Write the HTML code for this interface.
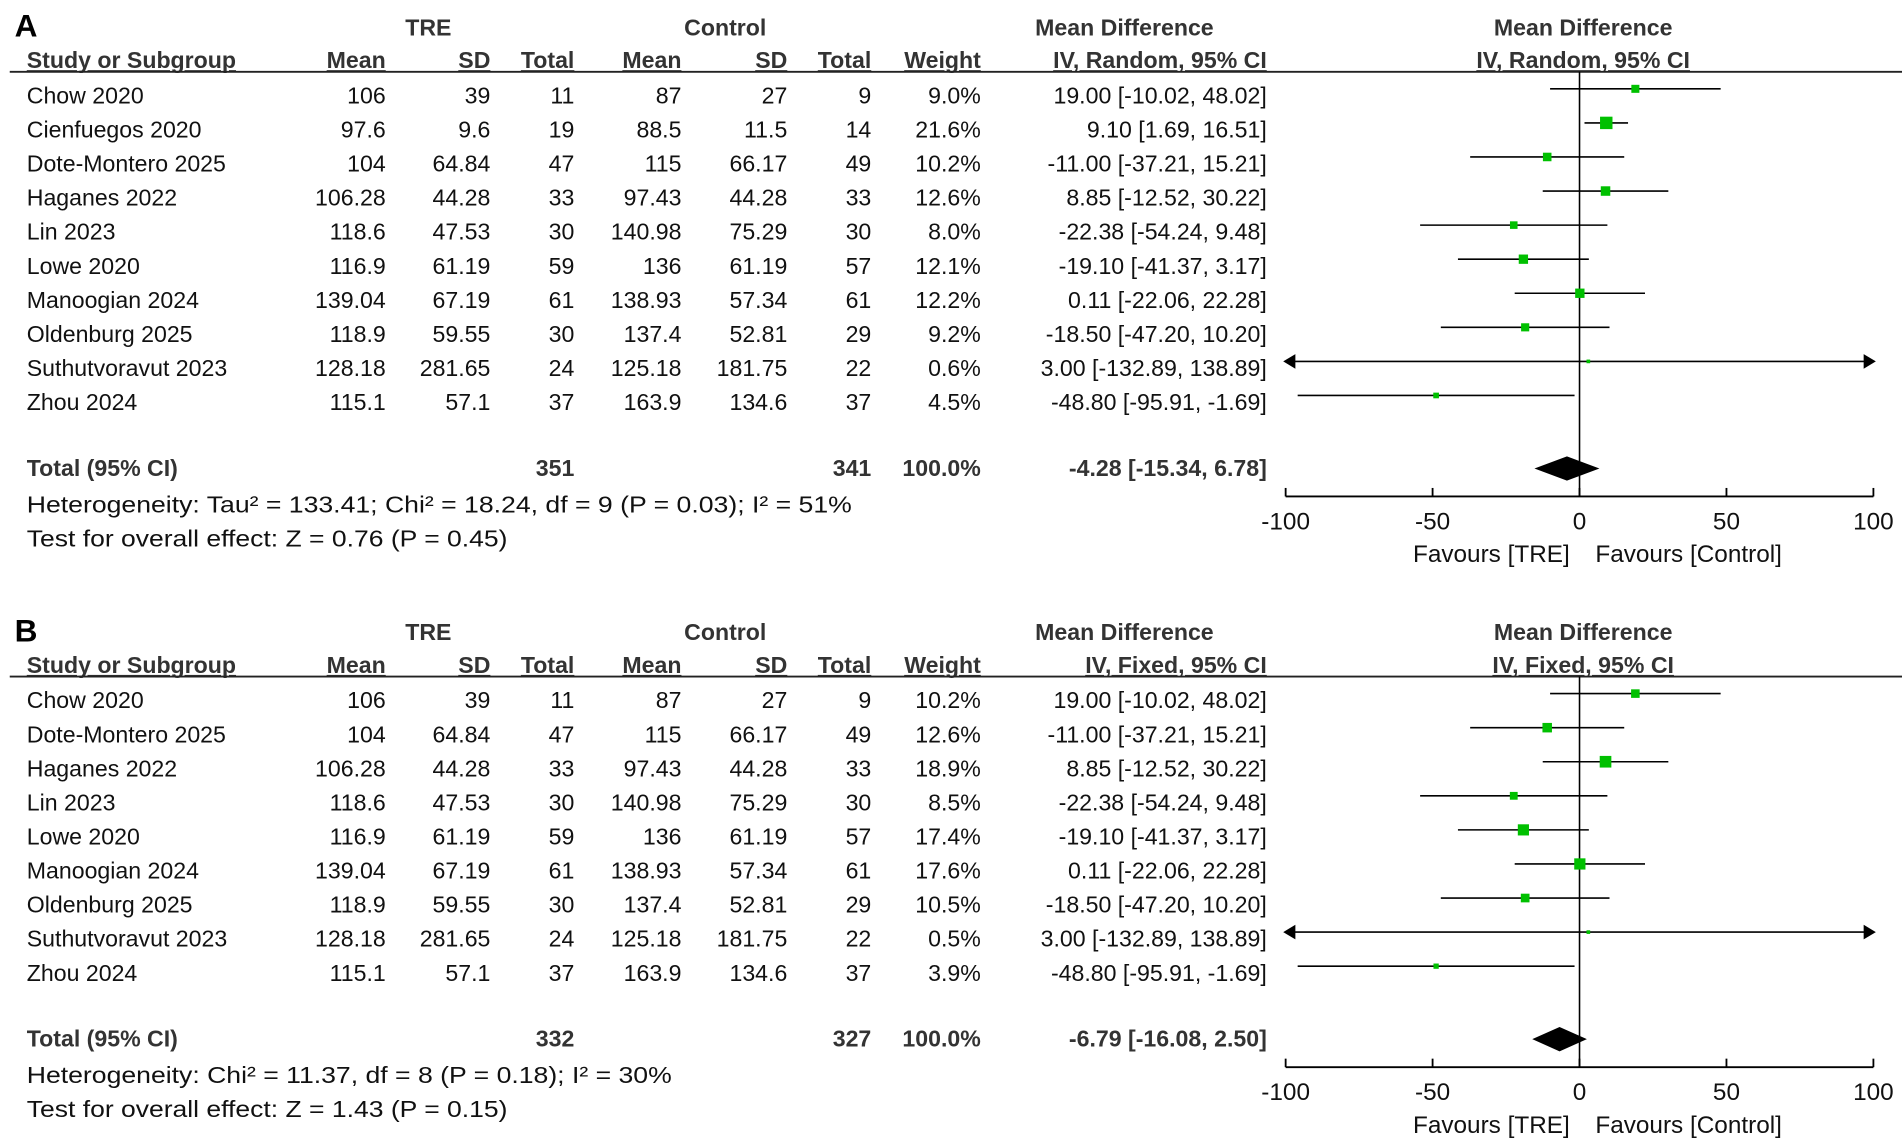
<!DOCTYPE html>
<html><head><meta charset="utf-8"><style>
html,body{margin:0;padding:0;background:#fff;}
svg{display:block;font-family:"Liberation Sans",Arial,sans-serif;}
</style></head>
<body>
<svg id="chart" width="1902" height="1142" viewBox="0 0 1563 938.5" preserveAspectRatio="none" xmlns="http://www.w3.org/2000/svg"></svg>
<script>
// ---- Panel A data (Random) ----
const studiesA = ["Chow 2020","Cienfuegos 2020","Dote-Montero 2025","Haganes 2022","Lin 2023","Lowe 2020","Manoogian 2024","Oldenburg 2025","Suthutvoravut 2023","Zhou 2024"];
const treMeanA = ["106","97.6","104","106.28","118.6","116.9","139.04","118.9","128.18","115.1"];
const treSdA = ["39","9.6","64.84","44.28","47.53","61.19","67.19","59.55","281.65","57.1"];
const treNA = ["11","19","47","33","30","59","61","30","24","37"];
const ctlMeanA = ["87","88.5","115","97.43","140.98","136","138.93","137.4","125.18","163.9"];
const ctlSdA = ["27","11.5","66.17","44.28","75.29","61.19","57.34","52.81","181.75","134.6"];
const ctlNA = ["9","14","49","33","30","57","61","29","22","37"];
const weightA = [9.0,21.6,10.2,12.6,8.0,12.1,12.2,9.2,0.6,4.5];
const mdA = [19.00,9.10,-11.00,8.85,-22.38,-19.10,0.11,-18.50,3.00,-48.80];
const loA = [-10.02,1.69,-37.21,-12.52,-54.24,-41.37,-22.06,-47.20,-132.89,-95.91];
const hiA = [48.02,16.51,15.21,30.22,9.48,3.17,22.28,10.20,138.89,-1.69];
const totalA = {n1:"351",n2:"341",md:-4.28,lo:-15.34,hi:6.78};
// ---- Panel B data (Fixed) ----
const studiesB = ["Chow 2020","Dote-Montero 2025","Haganes 2022","Lin 2023","Lowe 2020","Manoogian 2024","Oldenburg 2025","Suthutvoravut 2023","Zhou 2024"];
const treMeanB = ["106","104","106.28","118.6","116.9","139.04","118.9","128.18","115.1"];
const treSdB = ["39","64.84","44.28","47.53","61.19","67.19","59.55","281.65","57.1"];
const treNB = ["11","47","33","30","59","61","30","24","37"];
const ctlMeanB = ["87","115","97.43","140.98","136","138.93","137.4","125.18","163.9"];
const ctlSdB = ["27","66.17","44.28","75.29","61.19","57.34","52.81","181.75","134.6"];
const ctlNB = ["9","49","33","30","57","61","29","22","37"];
const weightB = [10.2,12.6,18.9,8.5,17.4,17.6,10.5,0.5,3.9];
const mdB = [19.00,-11.00,8.85,-22.38,-19.10,0.11,-18.50,3.00,-48.80];
const loB = [-10.02,-37.21,-12.52,-54.24,-41.37,-22.06,-47.20,-132.89,-95.91];
const hiB = [48.02,15.21,30.22,9.48,3.17,22.28,10.20,138.89,-1.69];
const totalB = {n1:"332",n2:"327",md:-6.79,lo:-16.08,hi:2.50};
const ticks = [-100,-50,0,50,100];
const tickLabels = ["-100","-50","0","50","100"];

const NS="http://www.w3.org/2000/svg";
const svg=document.getElementById('chart');
function el(tag,attrs,parent){const e=document.createElementNS(NS,tag);for(const k in attrs)e.setAttribute(k,attrs[k]);(parent||svg).appendChild(e);return e;}
function txt(x,y,s,anchor,bold,parent,size){const t=el('text',{x:x,y:y,'text-anchor':anchor||'start','font-size':size||19,'font-weight':bold?'bold':'normal',fill:bold?'#333':'#111'},parent);t.textContent=s;return t;}
const X=v=>1298+Math.max(-100,Math.min(100,v))*2.415;
const fmt=v=>v.toFixed(2);

function panel(o){
  const g=el('g',{});
  
  
  const y0=o.y0;
  const lab=txt(12,y0+9,o.letter,'start',true,g,26); lab.setAttribute('fill','#000');
  
  
  txt(352,y0+8,'TRE','middle',true,g); txt(596,y0+8,'Control','middle',true,g);
  txt(924,y0+8,'Mean Difference','middle',true,g); txt(1301,y0+8,'Mean Difference','middle',true,g);
  const hy=y0+35;
  [[22,'Study or Subgroup','start'],[317,'Mean','end'],[403,'SD','end'],[472,'Total','end'],[560,'Mean','end'],[647,'SD','end'],[716,'Total','end'],[806,'Weight','end'],[1041,o.method+', 95% CI','end'],[1301,o.method+', 95% CI','middle']].forEach(h=>{
    const t=txt(h[0],hy,h[1],h[2],true,g);
    t.setAttribute('text-decoration','underline');
    
    
  });
  el('line',{x1:8,x2:1563,y1:o.lineY,y2:o.lineY,stroke:'#222','stroke-width':1.5},g);
  el('line',{x1:X(0),x2:X(0),y1:o.lineY,y2:o.axisY,stroke:'#000','stroke-width':1.3},g);
  o.studies.forEach((s,i)=>{
    const y=o.rowY+i*28, ty=y+7;
    const row=el('g',{},g);
    
    
    txt(22,ty,s,'start',false,row);
    txt(317,ty,o.m1[i],'end',false,row); txt(403,ty,o.s1[i],'end',false,row); txt(472,ty,o.n1[i],'end',false,row);
    txt(560,ty,o.m2[i],'end',false,row); txt(647,ty,o.s2[i],'end',false,row); txt(716,ty,o.n2[i],'end',false,row);
    txt(806,ty,o.w[i].toFixed(1)+'%','end',false,row);
    txt(1041,ty,fmt(o.md[i])+' ['+fmt(o.lo[i])+', '+fmt(o.hi[i])+']','end',false,row);
    const ly=y-5;
    const ci=el('line',{x1:X(o.lo[i]),x2:X(o.hi[i]),y1:ly,y2:ly,stroke:'#000','stroke-width':1.3},row);
    
    
    if(o.lo[i]<-100) el('polygon',{points:`${X(-100)-2},${ly} ${X(-100)+8},${ly-6} ${X(-100)+8},${ly+6}`,fill:'#000'},row);
    if(o.hi[i]>100) el('polygon',{points:`${X(100)+2},${ly} ${X(100)-8},${ly-6} ${X(100)-8},${ly+6}`,fill:'#000'},row);
    const sz=Math.max(3,2.2*Math.sqrt(o.w[i]));
    const sq=el('rect',{x:X(o.md[i])-sz/2,y:ly-sz/2,width:sz,height:sz,fill:'#00c000'},row);
    
    
  });
  const tY=o.totalY;
  txt(22,tY,'Total (95% CI)','start',true,g); txt(472,tY,o.tot.n1,'end',true,g); txt(716,tY,o.tot.n2,'end',true,g);
  txt(806,tY,'100.0%','end',true,g);
  txt(1041,tY,fmt(o.tot.md)+' ['+fmt(o.tot.lo)+', '+fmt(o.tot.hi)+']','end',true,g);
  const dy=tY-6;
  const dm=el('polygon',{points:`${X(o.tot.lo)},${dy} ${X(o.tot.md)},${dy-10} ${X(o.tot.hi)},${dy} ${X(o.tot.md)},${dy+10}`,fill:'#000'},g);
  
  
  const h1=txt(22,o.hetY,o.het,'start',false,g); h1.setAttribute('textLength',o.hetLen); h1.setAttribute('lengthAdjust','spacingAndGlyphs');
  const h2=txt(22,o.hetY+28,o.test,'start',false,g); h2.setAttribute('textLength',395); h2.setAttribute('lengthAdjust','spacingAndGlyphs');
  const ax=el('g',{},g);
  
  
  el('line',{x1:X(-100),x2:X(100),y1:o.axisY,y2:o.axisY,stroke:'#000','stroke-width':1.5},ax);
  ticks.forEach((t,i)=>{
    el('line',{x1:X(t),x2:X(t),y1:o.axisY-7,y2:o.axisY,stroke:'#000','stroke-width':1.5},ax);
    txt(X(t),o.axisY+27,tickLabels[i],'middle',false,ax,20);
  });
  txt(1290,o.axisY+54,'Favours [TRE]','end',false,ax,20);
  txt(1311,o.axisY+54,'Favours [Control]','start',false,ax,20);
}
panel({name:'panel-a-random',letter:'A',y0:21,method:'IV, Random',lineY:59,rowY:78,axisY:408,totalY:391,hetY:421,
  het:'Heterogeneity: Tau² = 133.41; Chi² = 18.24, df = 9 (P = 0.03); I² = 51%',hetLen:678,
  test:'Test for overall effect: Z = 0.76 (P = 0.45)',studies:studiesA,m1:treMeanA,s1:treSdA,n1:treNA,m2:ctlMeanA,s2:ctlSdA,n2:ctlNA,w:weightA,md:mdA,lo:loA,hi:hiA,tot:totalA});
panel({name:'panel-b-fixed',letter:'B',y0:518,method:'IV, Fixed',lineY:556,rowY:575,axisY:877,totalY:860,hetY:890,
  het:'Heterogeneity: Chi² = 11.37, df = 8 (P = 0.18); I² = 30%',hetLen:530,
  test:'Test for overall effect: Z = 1.43 (P = 0.15)',studies:studiesB,m1:treMeanB,s1:treSdB,n1:treNB,m2:ctlMeanB,s2:ctlSdB,n2:ctlNB,w:weightB,md:mdB,lo:loB,hi:hiB,tot:totalB});
</script>
</body></html>
